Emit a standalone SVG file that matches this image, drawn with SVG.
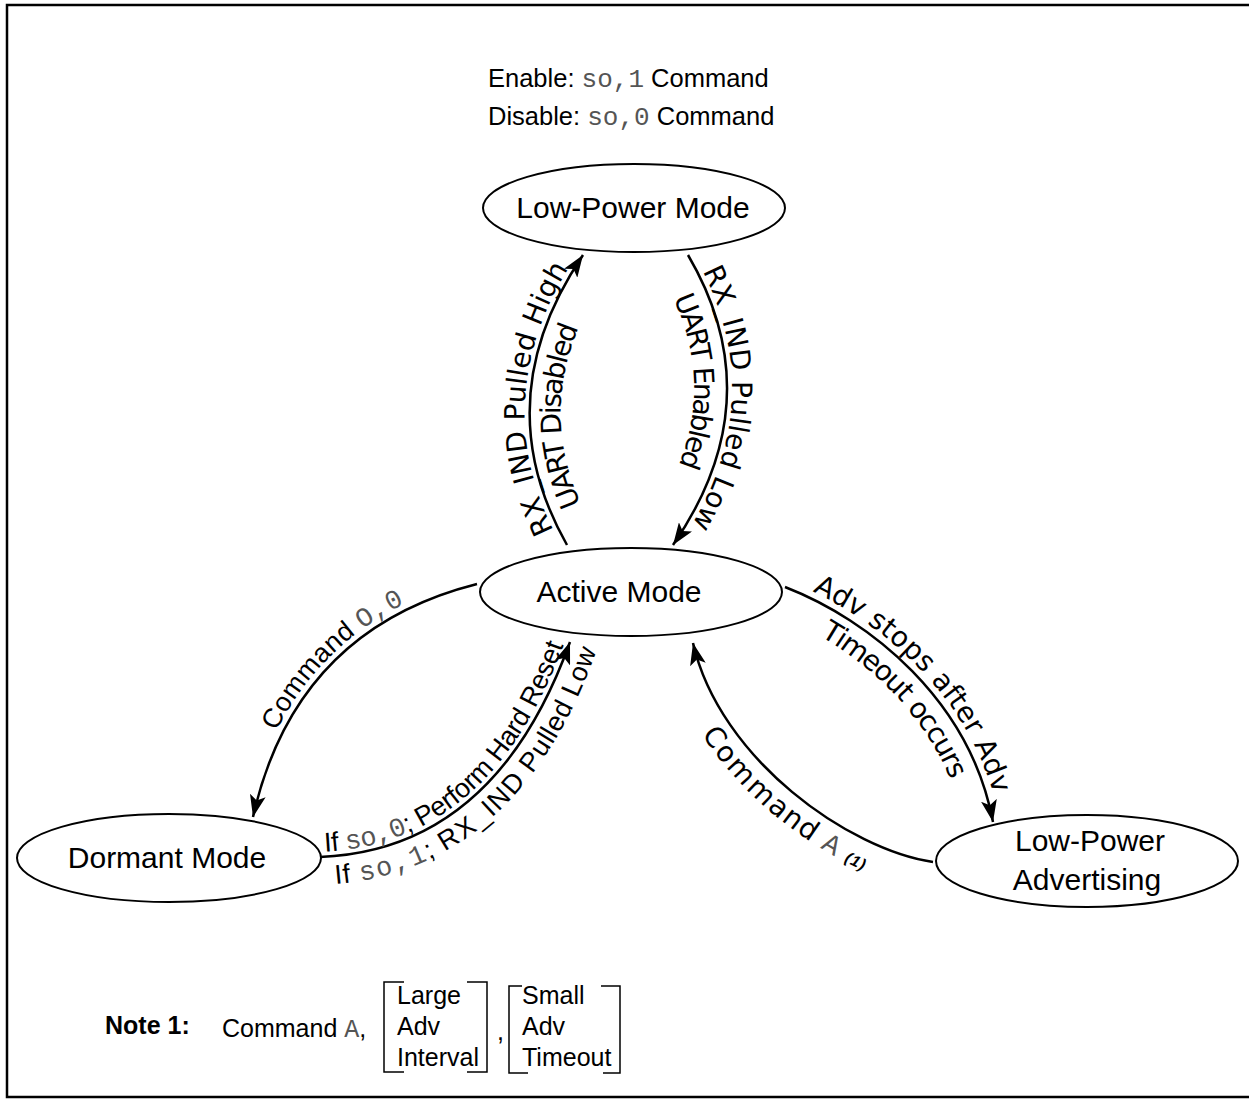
<svg xmlns="http://www.w3.org/2000/svg" width="1249" height="1099" viewBox="0 0 1249 1099">
<style>
.frame{fill:none;stroke:#000;stroke-width:2.5}
.node ellipse{fill:#fff;stroke:#000;stroke-width:2}
.nl{font-family:"Liberation Sans",Arial,sans-serif;font-size:30px;text-anchor:middle;fill:#000}
.edge{fill:none;stroke:#000;stroke-width:2.5;marker-end:url(#arr)}
.dv{font-family:"DejaVu Sans",Verdana,sans-serif;font-size:28px;fill:#000}
.ls{font-family:"Liberation Sans",Arial,sans-serif;font-size:27px;fill:#000}
.mono{font-family:"Liberation Mono","Courier New",monospace;fill:#555}
.top{font-family:"Liberation Sans",Arial,sans-serif;font-size:25.5px;fill:#000}
.note{font-family:"Liberation Sans",Arial,sans-serif;font-size:25px;fill:#000}
.br{fill:none;stroke:#000;stroke-width:1.5}
</style>
<defs>
<marker id="arr" markerUnits="userSpaceOnUse" markerWidth="22" markerHeight="16" refX="22" refY="8" orient="auto">
<path d="M0,0 L22,8 L0,16 L5,8 z" fill="#000"/>
</marker>
<path id="pL" d="M567,545 Q485,400 583,255"/>
<path id="pR" d="M688,255 Q773,400 673,545"/>
<path id="pCmd0" d="M253,817 Q295,630 477,584"/>
<path id="pIf" d="M320,857 Q495,850 570,642"/>
<path id="pAdv" d="M785,587 C870,620 970,700 993,822"/>
<path id="pCmdA" d="M693,643 C720,760 850,850 933,862"/>
</defs>
<rect class="frame" x="7" y="5" width="1250" height="1092"/>
<g id="connectors">
<path class="edge" d="M567,545 Q485,400 583,255"/>
<path class="edge" d="M688,255 Q773,400 673,545"/>
<path class="edge" d="M477,584 Q295,630 253,817"/>
<path class="edge" d="M320,857 Q495,850 570,642"/>
<path class="edge" d="M785,587 C870,620 970,700 993,822"/>
<path class="edge" d="M933,862 C850,850 720,760 693,643"/>
<text class="dv" dy="-5"><textPath href="#pL" startOffset="50%" text-anchor="middle">RX_IND Pulled High</textPath></text>
<text class="dv" dy="31"><textPath href="#pL" startOffset="44%" text-anchor="middle">UART Disabled</textPath></text>
<text class="dv" dy="-5"><textPath href="#pR" startOffset="49%" text-anchor="middle">RX_IND Pulled Low</textPath></text>
<text class="dv" dy="33"><textPath href="#pR" startOffset="43%" text-anchor="middle">UART Enabled</textPath></text>
<text class="ls" dy="-6"><textPath href="#pCmd0" startOffset="52%" text-anchor="middle">Command <tspan class="mono">O,0</tspan></textPath></text>
<text class="ls" dy="-5"><textPath href="#pIf" startOffset="50%" text-anchor="middle">If <tspan class="mono">so,0</tspan>; Perform Hard Reset</textPath></text>
<text class="ls" dy="28"><textPath href="#pIf" startOffset="52%" text-anchor="middle">If <tspan class="mono">so,1</tspan>; RX_IND Pulled Low</textPath></text>
<text class="dv" dy="-7"><textPath href="#pAdv" startOffset="50%" text-anchor="middle">Adv stops after Adv</textPath></text>
<text class="dv" dy="29"><textPath href="#pAdv" startOffset="50%" text-anchor="middle">Timeout occurs</textPath></text>
<text class="dv" dy="29"><textPath href="#pCmdA" startOffset="53%" text-anchor="middle">Command <tspan class="mono">A</tspan>  <tspan font-family="Liberation Sans,Arial,sans-serif" font-size="16" font-weight="bold" font-style="italic">(1)</tspan></textPath></text>
</g>
<g id="lpm" class="node"><ellipse cx="634" cy="208" rx="151" ry="44"/><text class="nl" x="633" y="218">Low-Power Mode</text></g>
<g id="active" class="node"><ellipse cx="631" cy="592" rx="151" ry="44"/><text class="nl" x="619" y="602">Active Mode</text></g>
<g id="dormant" class="node"><ellipse cx="169" cy="858" rx="152" ry="44"/><text class="nl" x="167" y="868">Dormant Mode</text></g>
<g id="lpa" class="node"><ellipse cx="1087" cy="861" rx="151" ry="46"/><text class="nl" x="1090" y="851">Low-Power</text><text class="nl" x="1087" y="890">Advertising</text></g>
<g id="toptext">
<text class="top" x="488" y="87">Enable: <tspan class="mono" font-size="26">so,1</tspan> Command</text>
<text class="top" x="488" y="125">Disable: <tspan class="mono" font-size="26">so,0</tspan> Command</text>
</g>
<g id="note">
<text class="note" x="105" y="1034" font-size="22" font-weight="bold">Note 1:</text>
<text class="note" x="222" y="1037">Command <tspan class="mono">A</tspan>,</text>
<path class="br" d="M404,982 H384 V1072 H404 M467,982 H487 V1072 H467"/>
<text class="note" x="397" y="1004">Large</text>
<text class="note" x="397" y="1035">Adv</text>
<text class="note" x="397" y="1066">Interval</text>
<text class="note" x="497" y="1040">,</text>
<path class="br" d="M522,986 H509 V1073 H528 M601,986 H620 V1073 H603"/>
<text class="note" x="522" y="1004">Small</text>
<text class="note" x="522" y="1035">Adv</text>
<text class="note" x="522" y="1066">Timeout</text>
</g>
</svg>
